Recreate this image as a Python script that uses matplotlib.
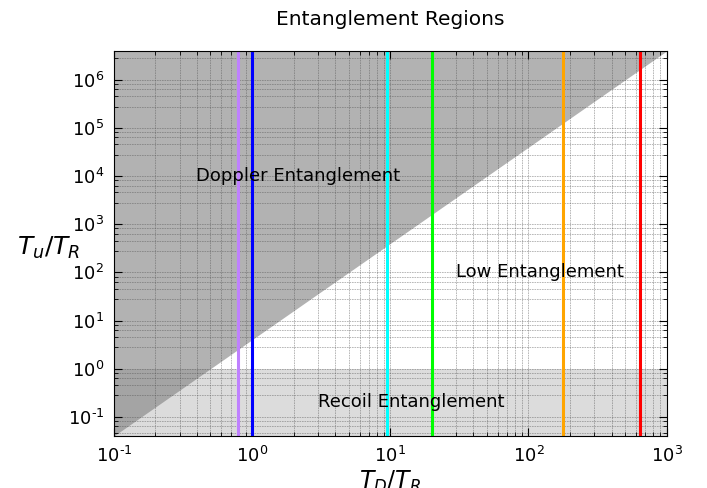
import numpy as np
import matplotlib.pyplot as plt
from matplotlib.ticker import LogLocator, FuncFormatter

plt.rcParams['mathtext.fontset'] = 'dejavusans'

# boundary between Doppler and low entanglement: T_u/T_R = 4 (T_D/T_R)^2
td = np.array([0.1, 1000.0])
tu_boundary = 4 * td**2
recoil_limit = 1.0

# temperatures of the species (T_D/T_R) and their colours
species_td = [0.79, 1.0, 9.5, 20.0, 177.0, 640.0]
species_colors = ['#bf80ff', 'blue', 'cyan', 'lime', 'orange', 'red']

region_labels = ['Doppler Entanglement', 'Low Entanglement', 'Recoil Entanglement']
label_pos = [(0.39, 1e4), (30.0, 1e2), (3.0, 0.2)]

# minor ticks on the y axis as drawn in the original figure
y_minor_subs = [2.8, 4.6, 6.4, 8.2]


def pow10_label(v, pos):
    e = int(np.round(np.log10(v)))
    s = str(e).replace('-', '\u2010')
    return '$\\mathdefault{10^{%s}}$' % s


fig = plt.figure(figsize=(7.07, 4.88), dpi=100)
ax = fig.add_axes([0.161, 0.1066, 0.782, 0.789])

ax.set_xscale('log')
ax.set_yscale('log')
ax.set_xlim(td[0], td[-1])
ax.set_ylim(tu_boundary[0], tu_boundary[-1])

ax.fill_between(td, tu_boundary, tu_boundary[-1], color='gray', alpha=0.6, lw=0)
ax.fill_between(td, tu_boundary[0], recoil_limit, color='gray', alpha=0.27, lw=0)

for x, c in zip(species_td, species_colors):
    ax.axvline(x, color=c, lw=2.2)

for txt, (x, y) in zip(region_labels, label_pos):
    ax.text(x, y, txt, fontsize=13, va='center', ha='left')

ax.yaxis.set_minor_locator(LogLocator(base=10, subs=y_minor_subs, numticks=30))
ax.xaxis.set_major_formatter(FuncFormatter(pow10_label))
ax.yaxis.set_major_formatter(FuncFormatter(pow10_label))

ax.grid(True, which='both', color='0.3', linestyle=(0, (2, 1)), linewidth=0.6, alpha=0.45)
ax.tick_params(which='both', direction='in', top=True, right=True, labelsize=13)
ax.tick_params(which='major', length=5.6, pad=7)
ax.tick_params(which='minor', length=2.8)

ax.set_xlabel('$T_D/T_R$', fontsize=17, labelpad=2)
ax.set_ylabel('$T_u/T_R$', fontsize=18, rotation=0, ha='center', va='center')
ax.yaxis.set_label_coords(-0.1175, 0.488)
ax.set_title('Entanglement Regions', fontsize=14.5, pad=19)

fig.savefig('out.png', dpi=100)
